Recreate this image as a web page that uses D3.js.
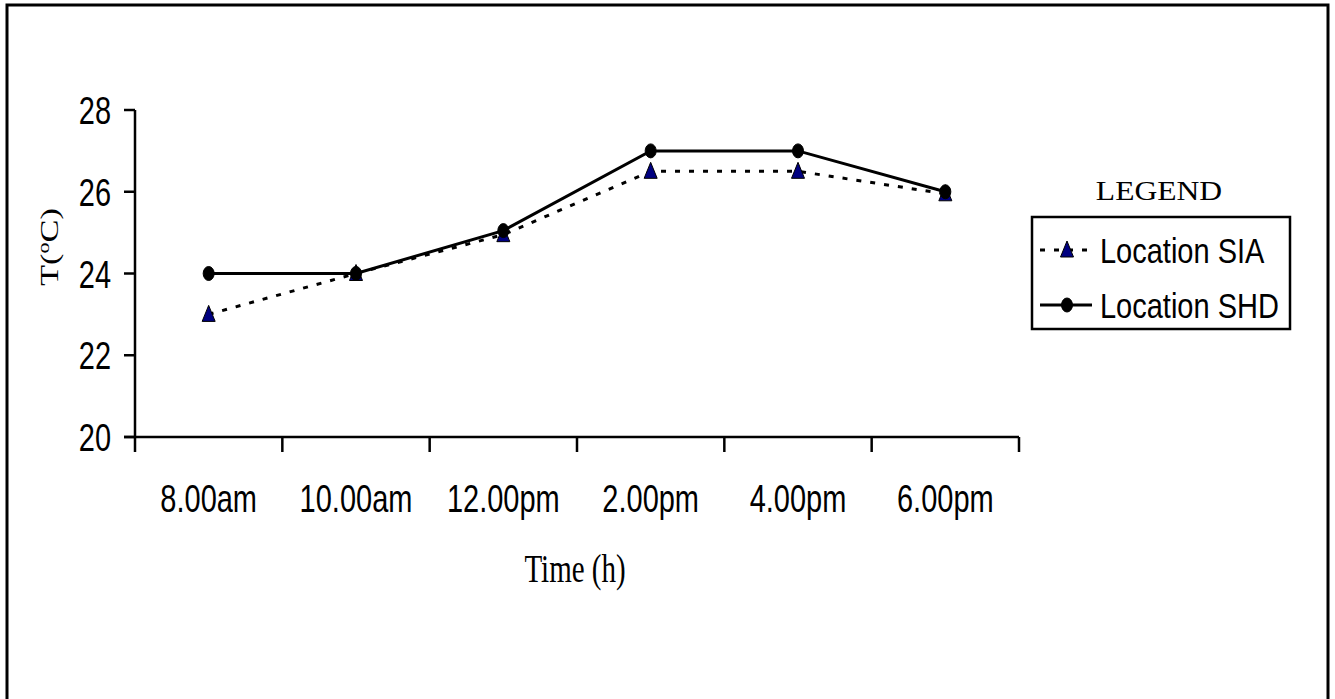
<!DOCTYPE html>
<html><head><meta charset="utf-8">
<script src="https://cdn.jsdelivr.net/npm/d3@7"></script>
<style>html,body{margin:0;padding:0;background:#fff;} svg{display:block;}</style>
</head><body>
<script>
const categories = ["8.00am","10.00am","12.00pm","2.00pm","4.00pm","6.00pm"];
const siaValues = [23, 24, 24.95, 26.5, 26.5, 25.95];
const shdValues = [24, 24, 25.05, 27, 27, 26.0];
const yTicks = [20, 22, 24, 26, 28];
const seriesNames = ["Location SIA", "Location SHD"];

const W = 1335, H = 699;
const svg = d3.select("body").append("svg").attr("width", W).attr("height", H);

// outer frame (bottom edge beyond the picture)
svg.append("rect").attr("x", 7).attr("y", 5).attr("width", 1321).attr("height", 720)
  .attr("fill", "none").attr("stroke", "#000").attr("stroke-width", 3);

const x0 = 135, x1 = 1019, yTop = 110, yBot = 437;
const x = d3.scaleBand().domain(categories).range([x0, x1]).paddingInner(0).paddingOuter(0);
const y = d3.scaleLinear().domain([20, 28]).range([yBot, yTop]);
const cx = d => x(d) + x.bandwidth() / 2;

const sans = "Arial, 'Liberation Sans', sans-serif";
const serif = "'Times New Roman', 'Liberation Serif', serif";

function stretchedText(g, tx, ty, txt, size, sx, sy, family, anchor) {
  return g.append("text")
    .attr("transform", `translate(${tx},${ty}) scale(${sx},${sy})`)
    .attr("text-anchor", anchor || "middle")
    .style("font-family", family).style("font-size", size + "px").attr("fill", "#000")
    .text(txt);
}

// Y axis
const gy = svg.append("g");
gy.append("line").attr("x1", x0).attr("x2", x0).attr("y1", yTop).attr("y2", yBot)
  .attr("stroke", "#000").attr("stroke-width", 2.5);
yTicks.forEach(t => {
  gy.append("line").attr("x1", x0 - 11).attr("x2", x0).attr("y1", y(t)).attr("y2", y(t))
    .attr("stroke", "#000").attr("stroke-width", 2.5);
  stretchedText(gy, 111, y(t) + 14, String(t), 29, 1, 1.32, sans, "end");
});

// X axis
const gx = svg.append("g");
gx.append("line").attr("x1", x0 - 11).attr("x2", x1).attr("y1", yBot).attr("y2", yBot)
  .attr("stroke", "#000").attr("stroke-width", 2.5);
const tickPos = categories.map(c => x(c)).concat([x1]);
tickPos.forEach(p => {
  gx.append("line").attr("x1", p).attr("x2", p).attr("y1", yBot).attr("y2", yBot + 15)
    .attr("stroke", "#000").attr("stroke-width", 2.5);
});
categories.forEach(c => {
  stretchedText(gx, cx(c), 512, c, 29, 1, 1.32, sans, "middle");
});

// axis titles
stretchedText(svg, 575, 582, "Time (h)", 29, 1, 1.38, serif, "middle");
const yt = svg.append("text")
  .attr("transform", "translate(58,247) rotate(-90) scale(1.38,1)")
  .attr("text-anchor", "middle")
  .style("font-family", serif).style("font-size", "25px").attr("fill", "#000");
yt.append("tspan").text("T(");
yt.append("tspan").attr("dy", -9).style("font-size", "16px").text("o");
yt.append("tspan").attr("dy", 9).text("C)");

// lines
const line = d3.line().x((d, i) => cx(categories[i])).y(d => y(d));
svg.append("path").datum(siaValues).attr("d", line).attr("fill", "none")
  .attr("stroke", "#000").attr("stroke-width", 3).attr("stroke-dasharray", "5,9");
svg.append("path").datum(shdValues).attr("d", line).attr("fill", "none")
  .attr("stroke", "#000").attr("stroke-width", 3);

function triangle(g, px, py) {
  g.append("path").attr("d", `M${px},${py - 9} L${px + 6.5},${py + 7} L${px - 6.5},${py + 7} Z`)
    .attr("fill", "#000080").attr("stroke", "#000").attr("stroke-width", 1);
}
function dot(g, px, py) {
  g.append("ellipse").attr("cx", px).attr("cy", py).attr("rx", 5.5).attr("ry", 7)
    .attr("fill", "#000").attr("stroke", "#000").attr("stroke-width", 1);
}
const gm = svg.append("g");
siaValues.forEach((v, i) => triangle(gm, cx(categories[i]), y(v)));
shdValues.forEach((v, i) => dot(gm, cx(categories[i]), y(v)));

// legend
const gl = svg.append("g");
stretchedText(gl, 1159, 200, "LEGEND", 27, 1.17, 1, serif, "middle");
gl.append("rect").attr("x", 1032).attr("y", 217).attr("width", 258).attr("height", 112)
  .attr("fill", "#fff").attr("stroke", "#000").attr("stroke-width", 2.5);
gl.append("line").attr("x1", 1040).attr("x2", 1090).attr("y1", 250).attr("y2", 250)
  .attr("stroke", "#000").attr("stroke-width", 3).attr("stroke-dasharray", "5,9");
triangle(gl, 1067, 250);
gl.append("line").attr("x1", 1040).attr("x2", 1092).attr("y1", 305).attr("y2", 305)
  .attr("stroke", "#000").attr("stroke-width", 3);
dot(gl, 1067, 305);
stretchedText(gl, 1100, 263, seriesNames[0], 29, 1, 1.2, sans, "start");
stretchedText(gl, 1100, 318, seriesNames[1], 29, 1, 1.2, sans, "start");
</script>
</body></html>
